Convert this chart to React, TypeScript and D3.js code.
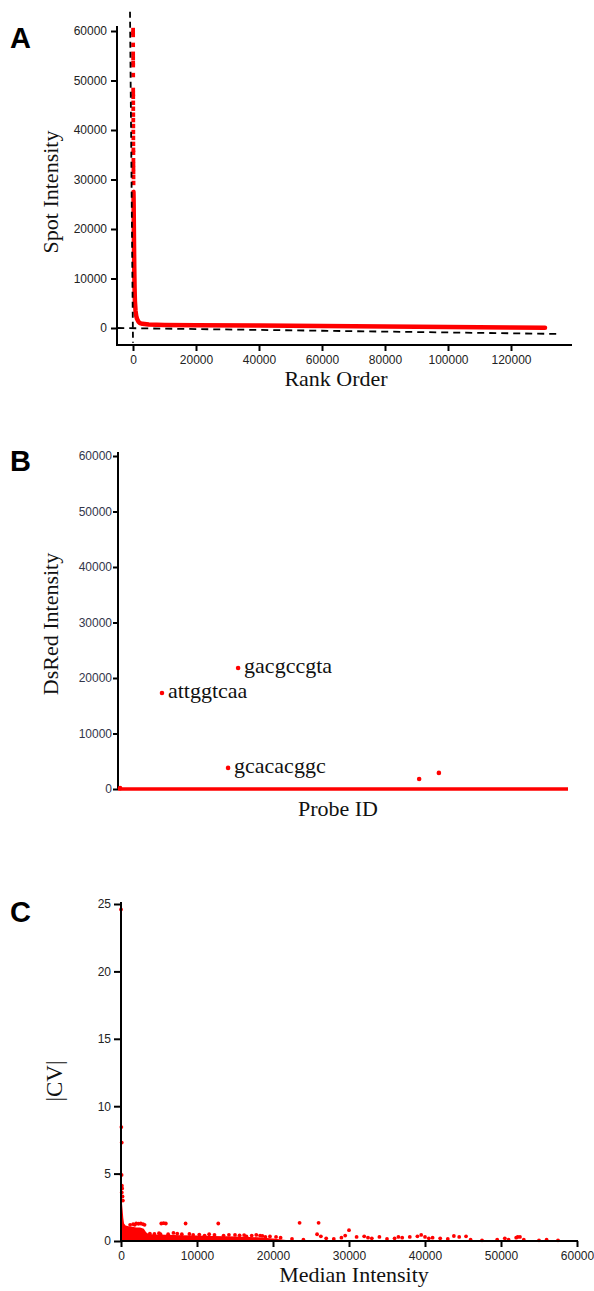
import { useRef, useEffect } from 'react';
import * as d3 from 'd3';

// Panel A: sorted spot intensities
const rankTopDots = [2, 4, 6, 9, 12, 15, 18, 21, 25, 29, 33, 37, 42, 47, 52, 57, 62, 67, 72, 78, 84, 90, 96, 103, 110, 118, 126, 134];
const intensityTopDots = [60200, 59600, 59200, 57200, 55400, 54500, 53500, 53100, 51100, 48100, 47300, 46700, 45500, 44300, 43100, 42000, 40800, 39600, 38400, 37200, 36000, 35400, 33900, 33100, 32300, 31500, 30500, 29300];
const rankCurve = [150, 200, 300, 400, 500, 600, 800, 1000, 1300, 1700, 2200, 3000, 5000, 10000, 20000, 40000, 60000, 80000, 100000, 120000, 130800];
const intensityCurve = [27500, 25500, 18000, 12000, 8000, 5500, 3500, 2500, 1800, 1300, 1000, 850, 700, 620, 560, 480, 400, 300, 220, 120, 60];
const fitVertRank = [-950, 0];
const fitVertIntensity = [63900, -3000];
const fitHorzRank = [-5000, 135000];
const fitHorzIntensity = [0, -1200];
const ticksAX = [0, 20000, 40000, 60000, 80000, 100000, 120000];
const ticksAY = [0, 10000, 20000, 30000, 40000, 50000, 60000];

// Panel B: DsRed intensity per probe
const probeLineIds = [0, 130000];
const probeLineIntensity = [0, 0];
const probeIds = [600, 12700, 34700, 31800, 87000, 92700];
const probeIntensity = [150, 17300, 21800, 3800, 1800, 2900];
const probeLabels = ['', 'attggtcaa', 'gacgccgta', 'gcacacggc', '', ''];
const ticksBY = [0, 10000, 20000, 30000, 40000, 50000, 60000];

// Panel C: |CV| vs median intensity
const denseMedian = [0, 100, 200, 300, 400, 600, 1000, 1500, 2000, 2500, 3000, 3300, 3600, 4500, 6000, 8000, 10000, 12000, 14000, 16000, 18000, 20000, 22000];
const denseCV = [3.3, 3.0, 2.4, 1.7, 1.3, 1.15, 1.1, 1.05, 1.0, 1.0, 0.9, 0.65, 0.52, 0.48, 0.46, 0.43, 0.4, 0.38, 0.35, 0.32, 0.28, 0.18, 0.05];
const cvMedian = [0, 50, 100, 80, 120, 150, 100, 200, 250, 1200, 1600, 2000, 2300, 2600, 2900, 3100, 1800, 5300, 5600, 5900, 8500, 12800, 23500, 26000, 25800, 26300, 6900, 5200, 9500, 11000, 13500, 15000, 16500, 17800, 18300, 19000, 21000, 22500, 24000, 27000, 28000, 29000, 30000, 29500, 31000, 32000, 32500, 33000, 34000, 35000, 36000, 36500, 37000, 38000, 39000, 39500, 40000, 40500, 41000, 42000, 43000, 43800, 44500, 45400, 46000, 47500, 49500, 50500, 51000, 52000, 52200, 52500, 53000, 55000, 56000, 57500,
    3800, 4400, 5000, 6200, 7400, 8000, 9000, 10300, 11600, 12300, 14200, 15600, 16200, 17200, 18600, 19600, 20400];
const cvValue = [24.6, 8.45, 7.3, 4.9, 4.1, 3.9, 3.6, 3.3, 3.0, 1.2, 1.25, 1.3, 1.28, 1.3, 1.25, 1.2, 1.2, 1.3, 1.32, 1.3, 1.3, 1.3, 1.35, 1.35, 0.5, 0.35, 0.6, 0.5, 0.45, 0.4, 0.4, 0.45, 0.35, 0.45, 0.4, 0.3, 0.25, 0.15, 0.1, 0.2, 0.15, 0.25, 0.8, 0.4, 0.3, 0.35, 0.25, 0.2, 0.3, 0.15, 0.2, 0.3, 0.25, 0.3, 0.35, 0.45, 0.3, 0.2, 0.25, 0.2, 0.15, 0.37, 0.3, 0.35, 0.1, 0.05, 0.1, 0.2, 0.1, 0.25, 0.3, 0.3, 0.1, 0.05, 0.1, 0.05,
    0.55, 0.52, 0.58, 0.5, 0.55, 0.5, 0.52, 0.48, 0.5, 0.45, 0.46, 0.42, 0.44, 0.4, 0.38, 0.34, 0.3];
const ticksCX = [0, 10000, 20000, 30000, 40000, 50000, 60000];
const ticksCY = [0, 5, 10, 15, 20, 25];

const RED = '#ff0000';
const SANS = 'Liberation Sans, Arial, sans-serif';
const SERIF = 'Liberation Serif, Times New Roman, serif';

export default function App() {
    const svgRef = useRef<SVGSVGElement>(null);

    useEffect(() => {
        if (!svgRef.current) return;
        const svg = d3.select(svgRef.current);
        svg.selectAll('*').remove();

        const panelLetter = (t: string, y: number) =>
            svg.append('text').attr('x', 10).attr('y', y)
                .attr('font-family', SANS).attr('font-weight', 'bold').attr('font-size', 29)
                .attr('fill', '#000').text(t);

        const yTitle = (t: string, x: number, y: number, size = 22) =>
            svg.append('text').attr('transform', `translate(${x},${y}) rotate(-90)`)
                .attr('text-anchor', 'middle').attr('font-family', SERIF).attr('font-size', size)
                .attr('fill', '#111').text(t);

        const xTitle = (t: string, x: number, y: number) =>
            svg.append('text').attr('x', x).attr('y', y)
                .attr('text-anchor', 'middle').attr('font-family', SERIF).attr('font-size', 22)
                .attr('fill', '#111').text(t);

        const styleAxis = (g: d3.Selection<SVGGElement, unknown, null, undefined>, color = '#222') => {
            g.select('.domain').remove();
            g.selectAll('.tick line').attr('stroke', '#000').attr('stroke-width', 2);
            g.selectAll('.tick text').attr('font-family', SANS).attr('font-size', 12).attr('fill', color);
        };

        // ---------- Panel A ----------
        const xA = d3.scaleLinear().domain([0, 120000]).range([133, 511]);
        const yA = d3.scaleLinear().domain([0, 60000]).range([328, 31]);

        const gA = svg.append('g');
        gA.append('line').attr('x1', 117).attr('x2', 117).attr('y1', 26).attr('y2', 346)
            .attr('stroke', '#000').attr('stroke-width', 2);
        gA.append('line').attr('x1', 116).attr('x2', 572).attr('y1', 345).attr('y2', 345)
            .attr('stroke', '#000').attr('stroke-width', 2);
        const axAy = gA.append('g').attr('transform', 'translate(117,0)')
            .call(d3.axisLeft(yA).tickValues(ticksAY).tickSize(6).tickPadding(4).tickFormat(d3.format('d')));
        styleAxis(axAy);
        const axAx = gA.append('g').attr('transform', 'translate(0,345)')
            .call(d3.axisBottom(xA).tickValues(ticksAX).tickSize(6).tickPadding(4).tickFormat(d3.format('d')));
        styleAxis(axAx);

        const curveA = d3.line<number>().x((_, i) => xA(rankCurve[i])).y(d => yA(d));
        gA.append('path').attr('d', curveA(intensityCurve)).attr('fill', 'none')
            .attr('stroke', RED).attr('stroke-width', 4.5).attr('stroke-linejoin', 'round').attr('stroke-linecap', 'round');
        gA.append('g').selectAll('rect').data(intensityTopDots).enter().append('rect')
            .attr('x', (_, i) => xA(rankTopDots[i]) - 1.8)
            .attr('y', d => yA(d) - 2.2)
            .attr('width', 3.8).attr('height', 4.4).attr('fill', RED);

        const fitLine = d3.line<number>();
        gA.append('path')
            .attr('d', fitLine([[xA(fitVertRank[0]), yA(fitVertIntensity[0])], [xA(fitVertRank[1]), yA(fitVertIntensity[1])]] as any))
            .attr('stroke', '#000').attr('stroke-width', 1.8).attr('stroke-dasharray', '6,4').attr('fill', 'none');
        gA.append('path')
            .attr('d', fitLine([[xA(fitHorzRank[0]), yA(fitHorzIntensity[0])], [xA(fitHorzRank[1]), yA(fitHorzIntensity[1])]] as any))
            .attr('stroke', '#000').attr('stroke-width', 1.8).attr('stroke-dasharray', '7,5').attr('fill', 'none');

        panelLetter('A', 48);
        yTitle('Spot Intensity', 58, 192);
        xTitle('Rank Order', 336, 386);

        // ---------- Panel B ----------
        const xB = d3.scaleLinear().domain([0, 130000]).range([118, 568]);
        const yB = d3.scaleLinear().domain([0, 60000]).range([789, 456]);
        const gB = svg.append('g');
        gB.append('line').attr('x1', 118).attr('x2', 118).attr('y1', 452).attr('y2', 790)
            .attr('stroke', '#000').attr('stroke-width', 2);
        const axBy = gB.append('g').attr('transform', 'translate(118,0)')
            .call(d3.axisLeft(yB).tickValues(ticksBY).tickSize(5).tickPadding(1).tickFormat(d3.format('d')));
        styleAxis(axBy, '#33364a');

        const lineB = d3.line<number>().x((_, i) => xB(probeLineIds[i])).y(d => yB(d));
        gB.append('path').attr('d', lineB(probeLineIntensity)).attr('stroke', RED).attr('stroke-width', 3.5).attr('fill', 'none');
        gB.append('g').selectAll('circle').data(probeIntensity).enter().append('circle')
            .attr('cx', (_, i) => xB(probeIds[i])).attr('cy', d => yB(d)).attr('r', 2.3).attr('fill', RED);
        gB.append('g').selectAll('text').data(probeLabels).enter().append('text')
            .attr('x', (_, i) => xB(probeIds[i]) + 6)
            .attr('y', (_, i) => yB(probeIntensity[i]) + 5)
            .attr('font-family', SERIF).attr('font-size', 22).attr('fill', '#111')
            .text(d => d);

        panelLetter('B', 471);
        yTitle('DsRed Intensity', 58, 624);
        xTitle('Probe ID', 338, 816);

        // ---------- Panel C ----------
        const xC = d3.scaleLinear().domain([0, 60000]).range([121, 577]);
        const yC = d3.scaleLinear().domain([0, 25]).range([1241, 904]);
        const gC = svg.append('g');

        const areaC = d3.area<number>().x((_, i) => xC(denseMedian[i])).y0(yC(0)).y1(d => yC(d));
        gC.append('path').attr('d', areaC(denseCV)).attr('fill', RED);
        gC.append('g').selectAll('circle').data(cvValue).enter().append('circle')
            .attr('cx', (_, i) => xC(cvMedian[i])).attr('cy', d => yC(d)).attr('r', 1.9).attr('fill', RED);

        gC.append('line').attr('x1', 121).attr('x2', 121).attr('y1', 902).attr('y2', 1242)
            .attr('stroke', '#000').attr('stroke-width', 2);
        gC.append('line').attr('x1', 120).attr('x2', 578).attr('y1', 1241).attr('y2', 1241)
            .attr('stroke', '#000').attr('stroke-width', 2);
        const axCy = gC.append('g').attr('transform', 'translate(121,0)')
            .call(d3.axisLeft(yC).tickValues(ticksCY).tickSize(7).tickPadding(3).tickFormat(d3.format('d')));
        styleAxis(axCy);
        const axCx = gC.append('g').attr('transform', 'translate(0,1241)')
            .call(d3.axisBottom(xC).tickValues(ticksCX).tickSize(6).tickPadding(4).tickFormat(d3.format('d')));
        styleAxis(axCx);

        panelLetter('C', 922);
        yTitle('|CV|', 62, 1081, 23);
        xTitle('Median Intensity', 354, 1282);
    }, []);

    return (
        <svg ref={svgRef} width={594} height={1291}
            style={{ position: 'absolute', left: 0, top: 0, background: '#fff' }} />
    );
}
